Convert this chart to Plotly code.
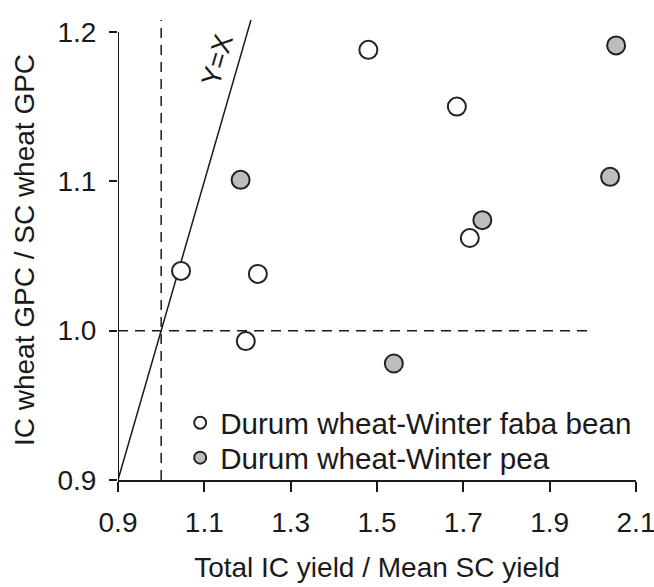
import plotly.graph_objects as go

# Data
faba_x = [1.046, 1.224, 1.196, 1.480, 1.685, 1.715]
faba_y = [1.040, 1.038, 0.993, 1.188, 1.150, 1.062]
pea_x = [1.184, 1.539, 1.744, 2.040, 2.054]
pea_y = [1.101, 0.978, 1.074, 1.103, 1.191]
identity = [0.9, 1.25]
x_ticks = [0.9, 1.1, 1.3, 1.5, 1.7, 1.9, 2.1]
x_tick_labels = ["0.9", "1.1", "1.3", "1.5", "1.7", "1.9", "2.1"]
y_ticks = [0.9, 1.0, 1.1, 1.2]
y_tick_labels = ["0.9", "1.0", "1.1", "1.2"]
ref_value = 1.0
h_ref_end = 2.0

FONT = "Liberation Sans, Arial, sans-serif"
INK = "#1a1a1a"

fig = go.Figure()

# Y = X line
fig.add_trace(go.Scatter(x=identity, y=identity, mode="lines",
                         line=dict(color=INK, width=1.5),
                         showlegend=False, hoverinfo="skip"))

fig.add_trace(go.Scatter(x=faba_x, y=faba_y, mode="markers",
                         name="Durum wheat-Winter faba bean", legend="legend",
                         marker=dict(symbol="circle", size=18, color="white",
                                     line=dict(color="#222222", width=2))))
fig.add_trace(go.Scatter(x=pea_x, y=pea_y, mode="markers",
                         name="Durum wheat-Winter pea", legend="legend2",
                         marker=dict(symbol="circle", size=18, color="#bdbdbd",
                                     line=dict(color="#222222", width=2))))

# reference dashed lines
fig.add_shape(type="line", xref="x", yref="y", x0=x_ticks[0], x1=h_ref_end,
              y0=ref_value, y1=ref_value,
              line=dict(color=INK, width=1.5, dash="10px,7px"))
fig.add_shape(type="line", xref="x", yref="paper", x0=ref_value, x1=ref_value,
              y0=0, y1=1, line=dict(color=INK, width=1.5, dash="10px,7px"))
# y axis line (only up to last tick)
fig.add_shape(type="line", xref="x", yref="y", x0=x_ticks[0], x1=x_ticks[0],
              y0=y_ticks[0], y1=y_ticks[-1], line=dict(color=INK, width=2))

fig.add_annotation(x=1.131, y=1.181, xref="x", yref="y", text="Y=X",
                   textangle=-73.7, showarrow=False,
                   font=dict(family=FONT, size=27, color=INK))

legend_style = dict(xanchor="left", yanchor="middle", bgcolor="rgba(0,0,0,0)",
                    font=dict(family=FONT, size=29.6, color=INK), itemsizing="constant")

fig.update_layout(
    width=654, height=587,
    margin=dict(l=118, r=18, t=20, b=107, autoexpand=False),
    paper_bgcolor="white", plot_bgcolor="white",
    font=dict(family=FONT, color=INK),
    legend=dict(x=0.12, y=0.124, **legend_style),
    legend2=dict(x=0.12, y=0.048, **legend_style),
    xaxis=dict(range=[0.9, 2.1], tickvals=x_ticks, ticktext=x_tick_labels,
               showgrid=False, zeroline=False, showline=True, linecolor=INK, linewidth=2,
               ticks="outside", ticklen=10, tickwidth=2, tickcolor=INK,
               tickfont=dict(family=FONT, size=28, color=INK), ticklabelstandoff=6,
               ticklabeloverflow="allow", automargin=False,
               title=dict(text="Total IC yield / Mean SC yield",
                          font=dict(family=FONT, size=28, color=INK), standoff=21)),
    yaxis=dict(range=[0.9, 1.208], tickvals=y_ticks, ticktext=y_tick_labels,
               showgrid=False, zeroline=False, showline=False, automargin=False,
               ticks="outside", ticklen=8, tickwidth=2, tickcolor=INK,
               tickfont=dict(family=FONT, size=28, color=INK), ticklabelstandoff=7,
               title=dict(text="IC wheat GPC / SC wheat GPC",
                          font=dict(family=FONT, size=28, color=INK), standoff=14)),
)

fig.write_html(
    "out.html",
    config={"displayModeBar": False},
    post_script="document.body.style.margin='0';document.body.style.overflow='hidden';",
)
